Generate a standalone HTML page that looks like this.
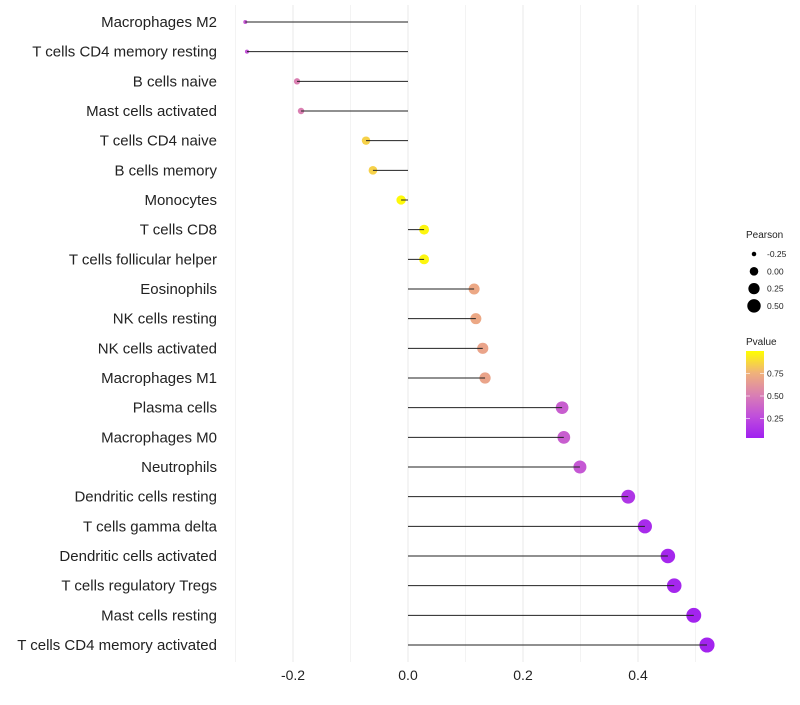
<!DOCTYPE html>
<html><head><meta charset="utf-8"><style>
body{margin:0;background:#fff;font-family:"Liberation Sans",sans-serif}
</style></head><body>
<svg id="chart" width="800" height="700" xmlns="http://www.w3.org/2000/svg" font-family="Liberation Sans, sans-serif"></svg>
<script>
const categories=["Macrophages M2","T cells CD4 memory resting","B cells naive","Mast cells activated","T cells CD4 naive","B cells memory","Monocytes","T cells CD8","T cells follicular helper","Eosinophils","NK cells resting","NK cells activated","Macrophages M1","Plasma cells","Macrophages M0","Neutrophils","Dendritic cells resting","T cells gamma delta","Dendritic cells activated","T cells regulatory  Tregs ","Mast cells resting","T cells CD4 memory activated"];
const pearson=[-0.283,-0.28,-0.193,-0.186,-0.073,-0.061,-0.012,0.028,0.028,0.115,0.118,0.130,0.134,0.268,0.271,0.299,0.383,0.412,0.452,0.463,0.497,0.52];
const pvalue=[0.3,0.28,0.5,0.5,0.85,0.85,0.98,0.97,0.97,0.7,0.7,0.68,0.68,0.33,0.33,0.3,0.12,0.06,0.04,0.04,0.02,0.02];
const xTicks=[-0.2,0,0.2,0.4];
const xTickLabels=["-0.2","0.0","0.2","0.4"];
const sizeLegend=[-0.25,0,0.25,0.5];
const sizeLegendLabels=["-0.25","0.00","0.25","0.50"];
const colorLegend=[0.25,0.5,0.75];
const colorLegendLabels=["0.25","0.50","0.75"];

const svg=document.getElementById('chart');
const NS="http://www.w3.org/2000/svg";
function mk(t,a,p){const e=document.createElementNS(NS,t);for(const k in a)e.setAttribute(k,a[k]);(p||svg).appendChild(e);return e;}
const x=v=>408+v*575;
const y=i=>22+i*((645-22)/21);
const r=v=>Math.sqrt(Math.max(1,4+66*(v+0.283)));
const stops=[[160,32,240],[192,78,220],[218,128,178],[240,178,122],[255,255,0]];
function col(p){p=Math.max(0,Math.min(1,p));const s=p*4,i=Math.min(3,Math.floor(s)),f=s-i;const a=stops[i],b=stops[i+1];return `rgb(${a.map((c,k)=>Math.round(c+(b[k]-c)*f)).join(',')})`;}

for(let v=-0.3;v<=0.51;v+=0.1){
  const g=mk('line',{x1:x(v),x2:x(v),y1:5,y2:662,stroke:'#ebebeb','stroke-width':Math.abs(Math.round(v*10)%2)===1?0.6:1.1});
  
  
}
xTicks.forEach((t,i)=>{
  const tx=mk('text',{x:x(t),y:680,'text-anchor':'middle','font-size':14,fill:'#222'});
  tx.textContent=xTickLabels[i];
  
  
});
categories.forEach((c,i)=>{
  const lb=mk('text',{x:217,y:y(i)+5,'text-anchor':'end','font-size':15,fill:'#222'});
  lb.textContent=c;
  
  
  const pt=mk('circle',{cx:x(pearson[i]),cy:y(i),r:r(pearson[i]),fill:col(pvalue[i])});
  
  
  const ln=mk('line',{x1:x(0),x2:x(pearson[i]),y1:y(i),y2:y(i),stroke:'#222','stroke-width':1});
  
  
});
const st=mk('text',{x:746,y:238,'font-size':10,fill:'#222'});st.textContent='Pearson';


sizeLegend.forEach((v,i)=>{
  const cy=254+i*17.3;
  const c=mk('circle',{cx:754,cy:cy,r:r(v)*0.9,fill:'#000'});
  
  
  const t=mk('text',{x:767,y:cy+3,'font-size':8.5,fill:'#222'});t.textContent=sizeLegendLabels[i];
  
  
});
const ct=mk('text',{x:746,y:345,'font-size':10,fill:'#222'});ct.textContent='Pvalue';


const defs=mk('defs',{});
const lg=mk('linearGradient',{id:'pg',x1:0,y1:1,x2:0,y2:0},defs);
stops.forEach((s,i)=>mk('stop',{offset:i/4,'stop-color':`rgb(${s.join(',')})`},lg));
const bar=mk('rect',{x:746,y:351,width:18,height:87,fill:'url(#pg)'});


const py=p=>396-(p-0.5)*90;
colorLegend.forEach((v,i)=>{
  mk('line',{x1:746,x2:750,y1:py(v),y2:py(v),stroke:'#fff','stroke-width':0.6});
  mk('line',{x1:760,x2:764,y1:py(v),y2:py(v),stroke:'#fff','stroke-width':0.6});
  const t=mk('text',{x:767,y:py(v)+3,'font-size':8.5,fill:'#222'});t.textContent=colorLegendLabels[i];
  
  
});
</script>
</body></html>
